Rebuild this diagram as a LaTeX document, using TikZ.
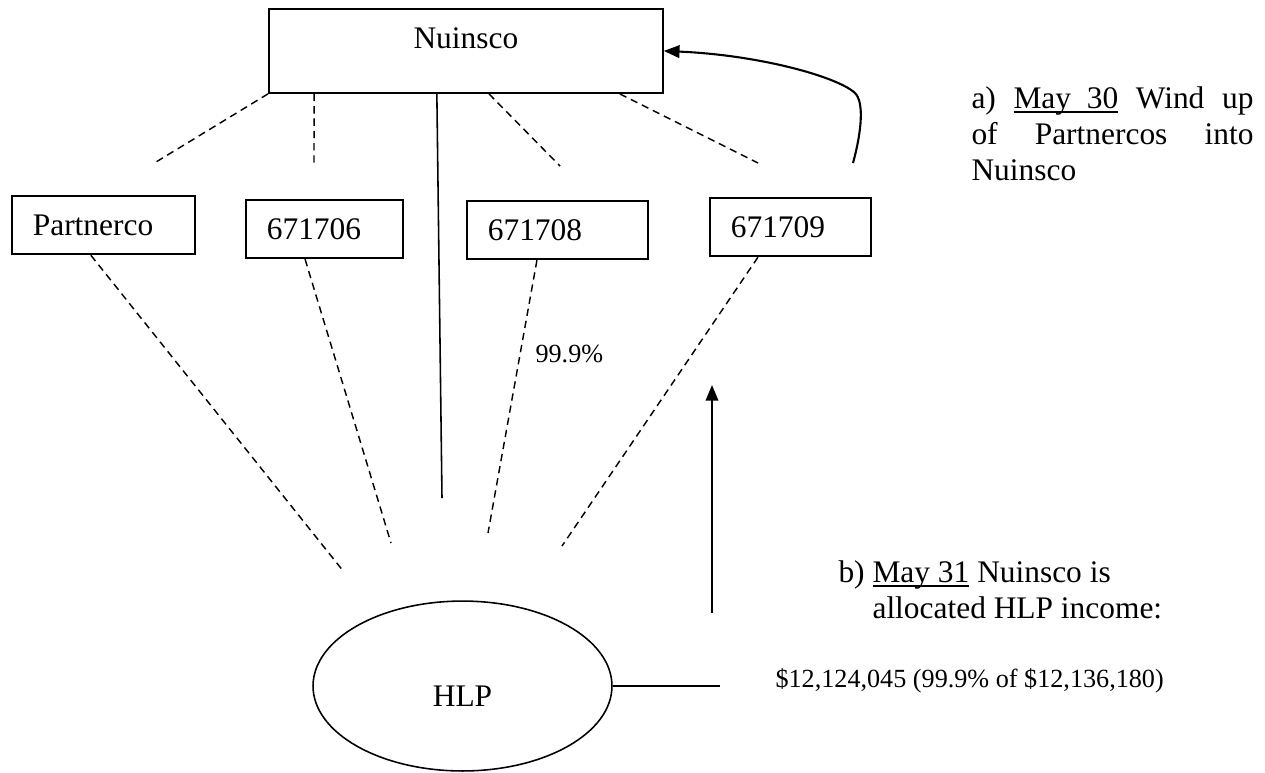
\documentclass[tikz,border=0pt]{standalone}
\usepackage{fontspec}
\setmainfont{Liberation Serif}
\usepackage{tikz}
\usetikzlibrary{arrows.meta, shapes.geometric}
\newcommand{\bodysize}{\fontsize{12pt}{13.8pt}\selectfont}
\newcommand{\smallsize}{\fontsize{10pt}{12pt}\selectfont}
\newsavebox{\datebox}
\newcommand{\udate}[1]{\sbox{\datebox}{#1}%
  \rlap{\rule[-1.8pt]{\wd\datebox}{0.6pt}}\usebox{\datebox}}

\begin{document}
\begin{tikzpicture}[
  x=0.382pt, y=-0.382pt,
  entity/.style={draw, line width=0.7pt, font=\bodysize, align=left,
    inner xsep=8pt, inner ysep=0pt, text height=15.3pt, text depth=7pt,
    anchor=north west},
  link/.style={dash pattern=on 2.8pt off 1.9pt, line width=0.55pt},
  own/.style={line width=0.6pt},
  arrow/.style={-{Triangle[length=6pt, width=4.8pt]}, line width=0.8pt},
  note/.style={font=\bodysize, inner sep=0pt, align=left, anchor=north west},
]
  \useasboundingbox (0,0) rectangle (1265,772);

  % Nodes — parent, four partnercos, HLP
  \node (Nu) [draw, line width=0.7pt, font=\bodysize, inner sep=0pt,
    minimum width=150.5pt, text height=15.3pt, text depth=16.8pt,
    anchor=north west] at (268,8) {Nuinsco};
  \node (Pc)   [entity, text width=53.9pt] at (11,195)  {Partnerco};
  \node (P706) [entity, text width=44pt]   at (245,199) {671706};
  \node (P708) [entity, text width=53.1pt] at (466,200) {671708};
  \node (P709) [entity, text width=45.5pt] at (709,197) {671709};
  \node (HLP) [draw, ellipse, line width=0.6pt, font=\bodysize, inner sep=0pt,
    minimum width=114.2pt, minimum height=64.9pt, text height=16pt,
    text depth=0pt] at (462.5,686) {HLP};

  % loose ends of the broken lines
  \coordinate (t1) at (156,162);
  \coordinate (t2) at (314,167);
  \coordinate (t3) at (560,166);
  \coordinate (t4) at (758,163);
  \coordinate (h0) at (442,498);
  \coordinate (h1) at (344,572);
  \coordinate (h2) at (391,543);
  \coordinate (h3) at (488,533);
  \coordinate (h4) at (562,546);
  \coordinate (w0) at (853,163);
  \coordinate (i0) at (720,686);
  \coordinate (u0) at (712,613);
  \coordinate (u1) at (712,385);

  % Nuinsco down to the partnercos
  \draw[link] (Nu.south west) -- (t1);
  \draw[link] ([xshift=17.6pt]Nu.south west) -- (t2);
  \draw[link] ([xshift=8.8pt]Nu.south) -- (t3);
  \draw[link] ([xshift=-16.8pt]Nu.south east) -- (t4);

  % Nuinsco straight into HLP
  \draw[own] ([xshift=-11.1pt]Nu.south) -- (h0);

  % partnercos down to HLP
  \draw[link] ([xshift=-4.8pt]Pc.south) -- (h1);
  \draw[link] ([xshift=-7.4pt]P706.south) -- (h2);
  \draw[link] ([xshift=-7.8pt]P708.south) -- (h3);
  \draw[link] ([xshift=-12.4pt]P709.south) -- (h4);
  \node (pct) [font=\smallsize, inner sep=0pt, anchor=base west]
    at (535,362) {99.9\%};

  % a) wind up into Nuinsco
  \draw[arrow] (w0) .. controls (862,130) and (864,102) .. (855,93)
    .. controls (838,77) and (760,55) .. (Nu.east);
  \node (noteA) [note] at (971,86)
    {\makebox[107.7pt][s]{a) \udate{May\ \ 30} Wind up}\\
     \makebox[107.7pt][s]{of Partnercos into}\\
     Nuinsco};

  % b) HLP income allocated up
  \draw[own] (HLP.east) -- (i0);
  \draw[arrow] (u0) -- (u1);
  \node (noteB) [note] at (838,560)
    {b) \udate{May 31} Nuinsco is\\
     \leavevmode\phantom{b)} allocated HLP income:};
  \node (amt) [font=\smallsize, inner sep=0pt, anchor=base west]
    at (775,687) {\$12,124,045 (99.9\% of \$12,136,180)};

\end{tikzpicture}
\end{document}
